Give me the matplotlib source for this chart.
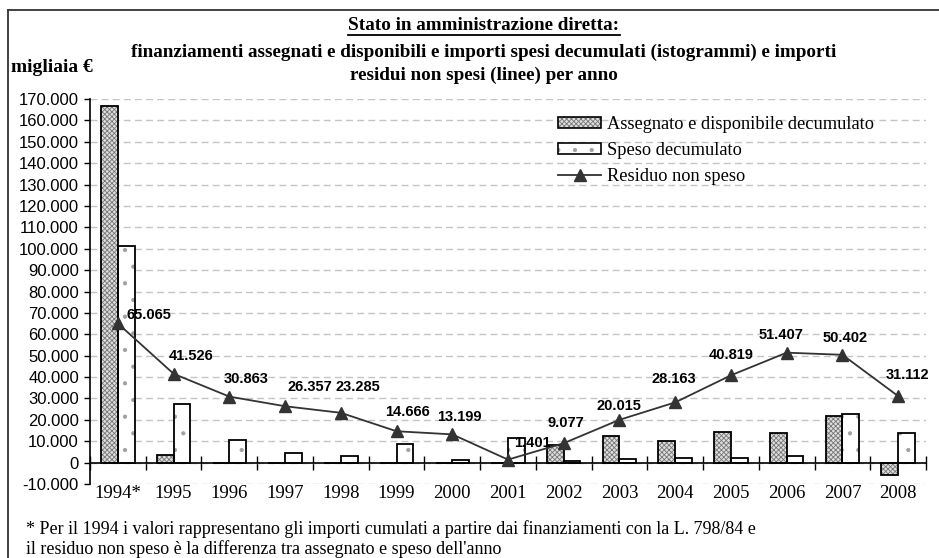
"""
Stato in amministrazione diretta: assegnato, speso e residuo per anno
"""
import numpy as np
import matplotlib
matplotlib.use('Agg')
import matplotlib.pyplot as plt
from matplotlib.lines import Line2D
from matplotlib.patches import Patch
from matplotlib.legend_handler import HandlerTuple
from matplotlib.ticker import FuncFormatter

# dati (migliaia di euro)
anni = ['1994*', '1995', '1996', '1997', '1998', '1999', '2000', '2001',
        '2002', '2003', '2004', '2005', '2006', '2007', '2008']
assegnato = [166500, 3400, 0, 0, 0, 0, 0, 0,
             8400, 12500, 10100, 14300, 13700, 21800, -5900]
speso = [101400, 27600, 10700, 4300, 3000, 8600, 1450, 11700,
         550, 1500, 2300, 2300, 3100, 22600, 13700]
residuo = [65065, 41526, 30863, 26357, 23285, 14666, 13199, 1401,
           9077, 20015, 28163, 40819, 51407, 50402, 31112]

# spostamento delle etichette (pixel)
label_offsets = [(31, 8), (18, 18), (17, 18), (25, 19), (17, 26), (11, 19),
                 (7, 17), (24, 17), (2, 20), (-1, 14), (-1, 23), (0, 20),
                 (-6, 18), (3, 17), (9, 21)]

SERIF = 'Liberation Serif'
SANS = 'Liberation Sans'
plt.rcParams['font.family'] = SANS
plt.rcParams['hatch.linewidth'] = 0.6

W, H = 939, 558
fig = plt.figure(figsize=(W / 100, H / 100), dpi=100)
ax = fig.add_axes([90 / W, 1 - 484 / H, (926 - 90) / W, (484 - 99) / H])

x = np.arange(len(anni))
bw = 0.3

# istogrammi: riempimento con trama, poi il bordo nero
ax.bar(x - bw / 2, assegnato, bw, color='#dedede', edgecolor='#777777',
       hatch='xxxxxxx', linewidth=0, zorder=2)
ax.bar(x - bw / 2, assegnato, bw, fill=False, edgecolor='black',
       linewidth=1.3, zorder=3)
ax.bar(x + bw / 2, speso, bw, color='white', edgecolor='#a0a0a0',
       hatch='.', linewidth=0, zorder=2)
ax.bar(x + bw / 2, speso, bw, fill=False, edgecolor='black',
       linewidth=1.3, zorder=3)

# linea residuo
ax.plot(x, residuo, color='#333333', lw=1.3, marker='^', markersize=8.5,
        markerfacecolor='#333333', markeredgecolor='#333333', zorder=4)

for xi, v, (dx, dy) in zip(x, residuo, label_offsets):
    ax.annotate(f'{v:,}'.replace(',', '.'), (xi, v),
                xytext=(dx * 0.72, dy * 0.72), textcoords='offset points',
                ha='center', va='center', fontsize=10.5, fontweight='bold',
                family=SANS, zorder=5)

# assi
ax.set_xlim(-0.5, len(anni) - 0.5)
ax.set_ylim(-10000, 170000)
ax.set_yticks(range(-10000, 170001, 10000))
ax.yaxis.set_major_formatter(
    FuncFormatter(lambda v, p: f'{int(v):,}'.replace(',', '.')))
ax.tick_params(axis='y', direction='out', length=4, width=1, labelsize=12,
               pad=4)

ax.spines['top'].set_visible(False)
ax.spines['right'].set_visible(False)
ax.spines['bottom'].set_position(('data', 0))
ax.spines['left'].set_linewidth(1.2)
ax.spines['bottom'].set_linewidth(1.2)

ax.set_xticks(np.arange(-0.5, len(anni), 1))
ax.set_xticklabels([])
ax.set_xticks(x, minor=True)
ax.set_xticklabels(anni, minor=True)
ax.tick_params(axis='x', which='major', direction='inout', length=10, width=1)
ax.tick_params(axis='x', which='minor', length=0, pad=16, labelsize=13.5)
for lbl in ax.get_xticklabels(minor=True):
    lbl.set_family(SERIF)
    lbl.set_bbox(dict(facecolor='white', edgecolor='none', pad=0.5))

ax.yaxis.grid(True, color='#c4c4c4', linestyle=(0, (5, 3)), linewidth=1)
ax.set_axisbelow(True)

# legenda
h_ass = (Patch(facecolor='#dedede', edgecolor='#777777', hatch='xxxxxxx',
               linewidth=0),
         Patch(fill=False, edgecolor='black', linewidth=1.2))
h_spe = (Patch(facecolor='white', edgecolor='#a0a0a0', hatch='.',
               linewidth=0),
         Patch(fill=False, edgecolor='black', linewidth=1.2))
h_res = Line2D([], [], color='#333333', lw=1.3, marker='^', markersize=8)
ax.legend([h_ass, h_spe, h_res],
          ['Assegnato e disponibile decumulato', 'Speso decumulato',
           'Residuo non speso'],
          handler_map={tuple: HandlerTuple(ndivide=1, pad=0)},
          loc='upper left', bbox_to_anchor=(558 / W, 1 - 116 / H),
          bbox_transform=fig.transFigure, frameon=False, borderpad=0,
          borderaxespad=0, handlelength=2.35, handleheight=0.5,
          handletextpad=0.3, labelspacing=0.5,
          prop={'family': SERIF, 'size': 13.2})

# titolo e testi
TFS = 13.8
t1 = fig.text(484 / W, 1 - 25 / H, 'Stato in amministrazione diretta:',
              ha='center', va='center', family=SERIF, fontweight='bold',
              fontsize=TFS)
fig.text(484 / W, 1 - 52 / H,
         'finanziamenti assegnati e disponibili e importi spesi decumulati '
         '(istogrammi) e importi',
         ha='center', va='center', family=SERIF, fontweight='bold',
         fontsize=TFS)
fig.text(484 / W, 1 - 75 / H, 'residui non spesi (linee) per anno',
         ha='center', va='center', family=SERIF, fontweight='bold',
         fontsize=TFS)
fig.text(11 / W, 1 - 68 / H, 'migliaia €', ha='left', va='center',
         family=SERIF, fontweight='bold', fontsize=14)
fig.text(26 / W, 1 - 529 / H,
         '* Per il 1994 i valori rappresentano gli importi cumulati a partire '
         'dai finanziamenti con la L. 798/84 e',
         ha='left', va='center', family=SERIF, fontsize=13)
fig.text(26 / W, 1 - 549 / H,
         "il residuo non speso è la differenza tra assegnato e speso "
         "dell'anno",
         ha='left', va='center', family=SERIF, fontsize=13)

# sottolineatura della prima riga del titolo
fig.canvas.draw()
bb = t1.get_window_extent()
yl = (bb.y0 - 1) / H
fig.add_artist(Line2D([bb.x0 / W, bb.x1 / W], [yl, yl],
                      transform=fig.transFigure, color='black', lw=1.3))

# cornice
yf = 1 - 10 / H
fig.add_artist(Line2D([8 / W, 8 / W], [0, yf], transform=fig.transFigure,
                      color='#333333', lw=1.3))
fig.add_artist(Line2D([8 / W, 1], [yf, yf], transform=fig.transFigure,
                      color='#333333', lw=1.3))

fig.savefig('out.png', dpi=100)
